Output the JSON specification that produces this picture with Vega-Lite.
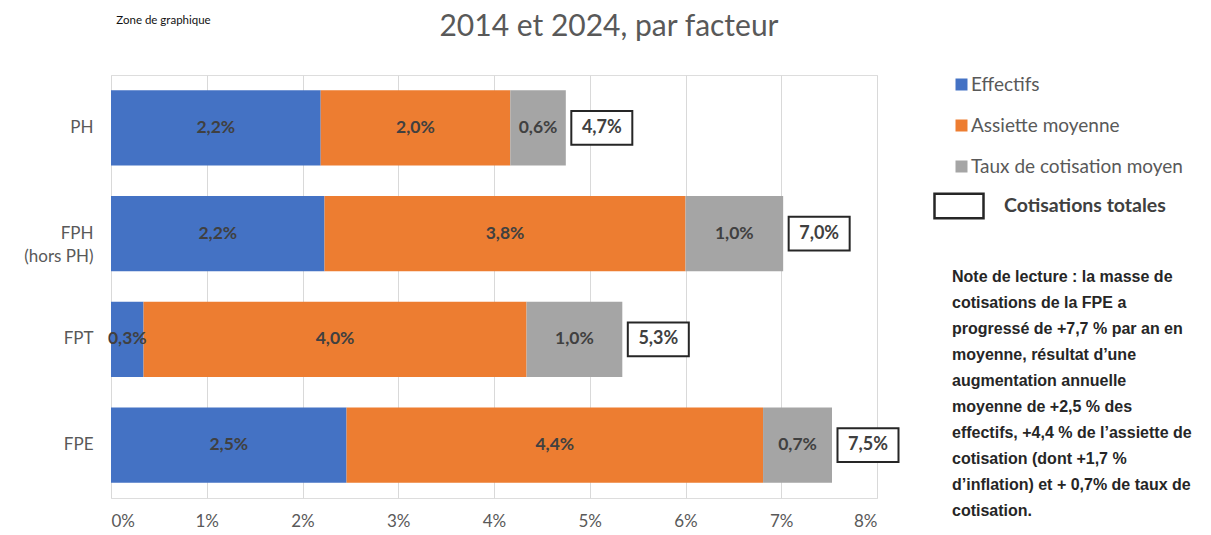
{
  "$schema": "https://vega.github.io/schema/vega-lite/v6.json",
  "autosize": {"type": "none"},
  "padding": {"left": 111, "top": 75, "right": 334, "bottom": 37},
  "width": 766,
  "height": 423,
  "background": "white",
  "title": {
    "text": "2014 et 2024, par facteur",
    "font": "Lato",
    "fontSize": 30,
    "fontWeight": "normal",
    "color": "#595959",
    "anchor": "middle",
    "dx": 115,
    "offset": -28
  },
  "datasets": {
    "segments": [
      {"cat": "PH", "factor": "Effectifs", "ordre": 1, "value": 2.19, "label": "2,2%"},
      {"cat": "PH", "factor": "Assiette moyenne", "ordre": 2, "value": 1.98, "label": "2,0%"},
      {"cat": "PH", "factor": "Taux de cotisation moyen", "ordre": 3, "value": 0.58, "label": "0,6%"},
      {"cat": "FPH (hors PH)", "factor": "Effectifs", "ordre": 1, "value": 2.23, "label": "2,2%"},
      {"cat": "FPH (hors PH)", "factor": "Assiette moyenne", "ordre": 2, "value": 3.77, "label": "3,8%"},
      {"cat": "FPH (hors PH)", "factor": "Taux de cotisation moyen", "ordre": 3, "value": 1.02, "label": "1,0%"},
      {"cat": "FPT", "factor": "Effectifs", "ordre": 1, "value": 0.34, "label": "0,3%"},
      {"cat": "FPT", "factor": "Assiette moyenne", "ordre": 2, "value": 4.0, "label": "4,0%"},
      {"cat": "FPT", "factor": "Taux de cotisation moyen", "ordre": 3, "value": 1.0, "label": "1,0%"},
      {"cat": "FPE", "factor": "Effectifs", "ordre": 1, "value": 2.46, "label": "2,5%"},
      {"cat": "FPE", "factor": "Assiette moyenne", "ordre": 2, "value": 4.35, "label": "4,4%"},
      {"cat": "FPE", "factor": "Taux de cotisation moyen", "ordre": 3, "value": 0.72, "label": "0,7%"}
    ],
    "totals": [
      {"cat": "PH", "serie": "Cotisations totales", "total": 4.75, "label": "4,7%"},
      {"cat": "FPH (hors PH)", "serie": "Cotisations totales", "total": 7.02, "label": "7,0%"},
      {"cat": "FPT", "serie": "Cotisations totales", "total": 5.34, "label": "5,3%"},
      {"cat": "FPE", "serie": "Cotisations totales", "total": 7.53, "label": "7,5%"}
    ]
  },
  "encoding": {
    "y": {
      "field": "cat",
      "type": "nominal",
      "sort": ["PH", "FPH (hors PH)", "FPT", "FPE"],
      "scale": {"paddingInner": 0.29, "paddingOuter": 0.145},
      "axis": {
        "title": "Zone de graphique",
        "titleAngle": 0,
        "titleFont": "Lato",
        "titleFontSize": 11.5,
        "titleFontWeight": "normal",
        "titleColor": "#111111",
        "titleX": 52,
        "titleY": -55,
        "titleAlign": "center",
        "titleBaseline": "middle",
        "domain": false,
        "ticks": false,
        "labelPadding": 18,
        "labelFont": "Lato",
        "labelFontSize": 17,
        "labelColor": "#595959",
        "labelLineHeight": 23,
        "labelExpr": "datum.value == 'FPH (hors PH)' ? ['FPH\u00a0\u00a0\u00a0\u00a0\u00a0', '(hors PH)'] : datum.value"
      }
    }
  },
  "layer": [
    {
      "data": {"name": "segments"},
      "mark": {"type": "bar"},
      "encoding": {
        "x": {
          "field": "value",
          "type": "quantitative",
          "stack": "zero",
          "scale": {"domain": [0, 8], "nice": false},
          "axis": {
            "title": null,
            "values": [0, 1, 2, 3, 4, 5, 6, 7, 8],
            "labelExpr": "datum.value + '%'",
            "grid": true,
            "gridColor": "#D9D9D9",
            "gridWidth": 1,
            "domain": false,
            "ticks": false,
            "labelPadding": 15,
            "labelFont": "Lato",
            "labelFontSize": 17,
            "labelColor": "#595959"
          }
        },
        "color": {
          "field": "factor",
          "type": "nominal",
          "scale": {
            "domain": ["Effectifs", "Assiette moyenne", "Taux de cotisation moyen"],
            "range": ["#4472C4", "#ED7D31", "#A5A5A5"]
          },
          "legend": {
            "title": null,
            "orient": "none",
            "legendX": 841,
            "legendY": 0,
            "padding": 0,
            "symbolType": "square",
            "symbolSize": 144,
            "symbolStrokeWidth": 0,
            "labelFont": "Lato",
            "labelFontSize": 19,
            "labelColor": "#595959",
            "labelOffset": 0,
            "labelLimit": 300,
            "rowPadding": 21
          }
        },
        "order": {"field": "ordre", "type": "quantitative"}
      }
    },
    {
      "data": {"name": "segments"},
      "mark": {"type": "text", "font": "Lato", "fontSize": 17.5, "fontWeight": "bold", "color": "#404040", "align": "center", "baseline": "middle"},
      "encoding": {
        "x": {"field": "value", "type": "quantitative", "stack": "zero", "bandPosition": 0.5},
        "detail": {"field": "factor"},
        "order": {"field": "ordre", "type": "quantitative"},
        "text": {"field": "label"}
      }
    },
    {
      "data": {"name": "totals"},
      "mark": {"type": "point", "shape": "M-1,-0.55L1,-0.55L1,0.55L-1,0.55Z", "filled": false, "fill": "white", "fillOpacity": 1, "strokeWidth": 2, "strokeOpacity": 1, "opacity": 1, "size": 3721, "xOffset": 36},
      "encoding": {
        "x": {"field": "total", "type": "quantitative"},
        "stroke": {
          "field": "serie",
          "type": "nominal",
          "scale": {"range": ["#262626"]},
          "legend": {
            "orient": "none",
            "legendX": 841,
            "legendY": 105,
            "padding": 0,
            "symbolType": "M-1,-0.5L1,-0.5L1,0.5L-1,0.5Z",
            "symbolSize": 2401,
            "symbolOffset": -19,
            "symbolFillColor": "white",
            "symbolStrokeWidth": 2.5,
            "symbolOpacity": 1,
            "labelFont": "Lato",
            "labelFontSize": 19.5,
            "labelFontWeight": "bold",
            "labelColor": "#404040",
            "labelOffset": 19,
            "labelLimit": 300,
            "title": [
              "Note de lecture : la masse de",
              "cotisations de la FPE a",
              "progressé de +7,7 % par an en",
              "moyenne, résultat d’une",
              "augmentation annuelle",
              "moyenne de +2,5 % des",
              "effectifs, +4,4 % de l’assiette de",
              "cotisation (dont +1,7 %",
              "d’inflation) et + 0,7% de taux de",
              "cotisation."
            ],
            "titleOrient": "bottom",
            "titleAnchor": "start",
            "titleAlign": "left",
            "titleFont": "Liberation Sans",
            "titleFontSize": 16,
            "titleFontWeight": "bold",
            "titleColor": "#262626",
            "titleLineHeight": 26,
            "titlePadding": 46,
            "titleLimit": 400
          }
        }
      }
    },
    {
      "data": {"name": "totals"},
      "mark": {"type": "text", "font": "Lato", "fontSize": 18, "fontWeight": "bold", "color": "#404040", "align": "center", "baseline": "middle", "dx": 36},
      "encoding": {
        "x": {"field": "total", "type": "quantitative"},
        "text": {"field": "label"}
      }
    }
  ]
}
